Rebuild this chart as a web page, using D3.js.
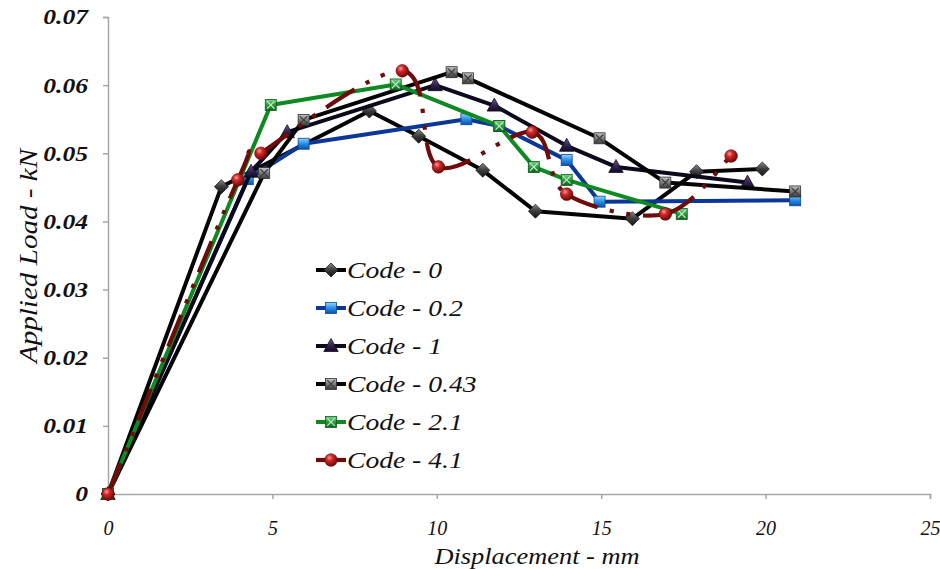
<!DOCTYPE html>
<html>
<head>
<meta charset="utf-8">
<script src="https://cdn.jsdelivr.net/npm/d3@7"></script>
<style>
  html, body { margin: 0; padding: 0; background: #fff; }
  svg { display: block; }
  text { font-family: "Liberation Serif", "Times New Roman", serif; font-style: italic; }
</style>
</head>
<body>
<svg id="chart" width="940" height="569"></svg>
<script>
// Load–displacement readings for each specimen code
const seriesNames = ["Code - 0", "Code - 0.2", "Code - 1", "Code - 0.43", "Code - 2.1", "Code - 4.1"];

const code0X   = [0, 3.45, 7.95, 9.45, 11.4, 13.0, 15.95, 17.9, 19.9];
const code0Y   = [0, 0.0451, 0.0562, 0.0525, 0.0475, 0.0415, 0.0404, 0.0473, 0.0477];

const code02X  = [0, 4.25, 5.95, 10.9, 11.9, 13.95, 14.95, 20.9];
const code02Y  = [0, 0.0462, 0.0514, 0.0550, 0.0540, 0.0490, 0.0429, 0.0431];

const code1X   = [0, 4.35, 5.45, 9.95, 11.75, 13.95, 15.45, 19.45];
const code1Y   = [0, 0.0473, 0.0531, 0.0600, 0.0570, 0.0511, 0.0480, 0.0457];

const code043X = [0, 4.75, 5.95, 10.45, 10.95, 14.95, 16.95, 20.9];
const code043Y = [0, 0.0471, 0.0549, 0.0619, 0.0610, 0.0522, 0.0457, 0.0444];

const code21X  = [0, 4.95, 8.75, 11.9, 12.95, 13.95, 17.45];
const code21Y  = [0, 0.0571, 0.0601, 0.0540, 0.0480, 0.0461, 0.0411];

const code41X  = [0, 3.95, 4.65, 8.95, 10.05, 12.9, 13.95, 16.95, 18.95];
const code41Y  = [0, 0.0461, 0.0500, 0.0621, 0.0480, 0.0531, 0.0440, 0.0411, 0.0496];

const xTicks = [0, 5, 10, 15, 20, 25];
const yTicks = [0, 0.01, 0.02, 0.03, 0.04, 0.05, 0.06, 0.07];
const yTickLabels = ["0", "0.01", "0.02", "0.03", "0.04", "0.05", "0.06", "0.07"];

const xTitle = "Displacement - mm";
const yTitle = "Applied Load - kN";

// ---- layout ----
const svg = d3.select("#chart");
const frame = { left: 108, right: 930, top: 17, bottom: 494 };

const x = d3.scaleLinear().domain([0, 25]).range([frame.left, frame.right]);
const y = d3.scaleLinear().domain([0, 0.07]).range([frame.bottom, frame.top]);

// ---- gradients for the glossy markers ----
const defs = svg.append("defs");
function linGrad(id, stops) {
  const g = defs.append("linearGradient").attr("id", id)
    .attr("x1", "0").attr("y1", "0").attr("x2", "0").attr("y2", "1");
  stops.forEach(([o, c]) => g.append("stop").attr("offset", o).attr("stop-color", c));
}
function radGrad(id, stops) {
  const g = defs.append("radialGradient").attr("id", id)
    .attr("cx", "0.38").attr("cy", "0.32").attr("r", "0.7");
  stops.forEach(([o, c]) => g.append("stop").attr("offset", o).attr("stop-color", c));
}
linGrad("gDiamond", [[0, "#8a8a8a"], [0.5, "#3a3a3a"], [1, "#151515"]]);
linGrad("gBlue", [[0, "#8fd6ff"], [0.5, "#2a8ee6"], [1, "#0a4fa8"]]);
linGrad("gTri", [[0, "#6a5a90"], [0.6, "#2c2048"], [1, "#140c24"]]);
linGrad("gGray", [[0, "#c8c8c8"], [0.5, "#7a7a7a"], [1, "#3a3a3a"]]);
linGrad("gGreen", [[0, "#7ad88a"], [0.5, "#2b9a3e"], [1, "#12621f"]]);
radGrad("gRed", [[0, "#f4a0a0"], [0.35, "#d02828"], [1, "#6a0808"]]);

// ---- series definitions ----
const series = [
  { name: seriesNames[0], xs: code0X,   ys: code0Y,   line: "#050505", width: 4, marker: "diamond" },
  { name: seriesNames[1], xs: code02X,  ys: code02Y,  line: "#0c3796", width: 4, marker: "bsquare" },
  { name: seriesNames[2], xs: code1X,   ys: code1Y,   line: "#0d0a1c", width: 4, marker: "triangle" },
  { name: seriesNames[3], xs: code043X, ys: code043Y, line: "#050505", width: 4, marker: "gsquare" },
  { name: seriesNames[4], xs: code21X,  ys: code21Y,  line: "#0f8a22", width: 4, marker: "xsquare" },
  { name: seriesNames[5], xs: code41X,  ys: code41Y,  line: "#6e0c0c", width: 4.2, marker: "circle", smooth: true }
];

// text helper: widened glyphs to suit the chart's typography
function stretch(sel, tx, ty, sx) {
  sel.attr("x", 0).attr("y", 0).attr("transform", `translate(${tx},${ty}) scale(${sx},1)`);
}

// ---- axes ----
const axisColor = "#a6a6a6";
const yAxis = svg.append("g").attr("transform", `translate(${frame.left},0)`)
  .call(d3.axisLeft(y).tickValues(yTicks).tickSize(5).tickFormat((d, i) => yTickLabels[i]));
const xAxis = svg.append("g").attr("transform", `translate(0,${frame.bottom})`)
  .call(d3.axisBottom(x).tickValues(xTicks).tickSize(5).tickFormat(d3.format("d")));

[yAxis, xAxis].forEach(g => {
  g.select(".domain").attr("stroke", axisColor).attr("stroke-width", 1.5);
  g.selectAll(".tick line").attr("stroke", axisColor).attr("stroke-width", 1.5);
  g.selectAll(".tick text").attr("fill", "#111")
    .style("font-family", '"Liberation Serif", serif').style("font-style", "italic");
});
yAxis.selectAll(".tick text")
  .style("font-size", "21px").style("font-weight", "bold")
  .attr("dy", "0.33em")
  .call(stretch, -20, 0, 1.22);
xAxis.selectAll(".tick text")
  .style("font-size", "20px")
  .attr("dy", null)
  .call(stretch, 0, 41, 1.0);

svg.append("text")
  .attr("text-anchor", "middle")
  .style("font-size", "26px").attr("fill", "#111")
  .text(yTitle)
  .attr("transform", `translate(37,256) rotate(-90) scale(1.12,1)`);

svg.append("text")
  .attr("text-anchor", "middle")
  .style("font-size", "24px").attr("fill", "#111")
  .text(xTitle)
  .call(stretch, 537, 564, 1.1);

// ---- marker drawing ----
function drawMarker(g, type, cx, cy) {
  const m = g.append("g").attr("transform", `translate(${cx},${cy})`);
  if (type === "diamond") {
    m.append("path").attr("d", "M0,-7L7,0L0,7L-7,0Z")
      .attr("fill", "url(#gDiamond)").attr("stroke", "#1a1a1a").attr("stroke-width", 0.8);
  } else if (type === "bsquare") {
    m.append("rect").attr("x", -5.5).attr("y", -5.5).attr("width", 11).attr("height", 11)
      .attr("fill", "url(#gBlue)").attr("stroke", "#0b4a94").attr("stroke-width", 0.8);
  } else if (type === "triangle") {
    m.append("path").attr("d", "M0,-7.5L7.2,5.5L-7.2,5.5Z")
      .attr("fill", "url(#gTri)").attr("stroke", "#120a22").attr("stroke-width", 0.8);
  } else if (type === "gsquare" || type === "xsquare") {
    const fill = type === "gsquare" ? "url(#gGray)" : "url(#gGreen)";
    const edge = type === "gsquare" ? "#2e2e2e" : "#0d5a1a";
    const cross = type === "gsquare" ? "#3c3c3c" : "#bfeac6";
    m.append("rect").attr("x", -5.5).attr("y", -5.5).attr("width", 11).attr("height", 11)
      .attr("fill", fill).attr("stroke", edge).attr("stroke-width", 0.8);
    m.append("path").attr("d", "M-3.8,-3.8L3.8,3.8M3.8,-3.8L-3.8,3.8")
      .attr("stroke", cross).attr("stroke-width", 1.2);
  } else if (type === "circle") {
    m.append("circle").attr("r", 6.3)
      .attr("fill", "url(#gRed)").attr("stroke", "#5a0606").attr("stroke-width", 0.6);
  }
}

// ---- plot lines ----
const plot = svg.append("g");
const straight = d3.line().x(d => x(d[0])).y(d => y(d[1]));

series.forEach(s => {
  const pts = s.xs.map((v, i) => [v, s.ys[i]]);
  const g = plot.append("g");
  if (!s.smooth) {
    g.append("path").datum(pts).attr("d", straight)
      .attr("fill", "none").attr("stroke", s.line)
      .attr("stroke-width", s.width).attr("stroke-linejoin", "round");
  } else {
    // smoothed long-dash-dot-dot line (8:3:1:3:1:3 of the stroke width);
    // the dash pattern restarts on every segment between readings
    const w = s.width;
    const dash = [8, 3, 1, 3, 1, 3].map(k => k * w).join(" ");
    const P = pts.map(d => [x(d[0]), y(d[1])]);
    const n = P.length;
    for (let i = 0; i < n - 1; i++) {
      const p0 = P[Math.max(i - 1, 0)], p1 = P[i], p2 = P[i + 1], p3 = P[Math.min(i + 2, n - 1)];
      const c1 = [p1[0] + (p2[0] - p0[0]) / 6, p1[1] + (p2[1] - p0[1]) / 6];
      const c2 = [p2[0] - (p3[0] - p1[0]) / 6, p2[1] - (p3[1] - p1[1]) / 6];
      const path = d3.path();
      path.moveTo(p1[0], p1[1]);
      path.bezierCurveTo(c1[0], c1[1], c2[0], c2[1], p2[0], p2[1]);
      g.append("path").attr("d", path.toString())
        .attr("fill", "none").attr("stroke", s.line)
        .attr("stroke-width", w).attr("stroke-linecap", "butt")
        .attr("stroke-dasharray", dash);
    }
  }
  s.group = g;
});

series.forEach(s => {
  s.xs.forEach((v, i) => drawMarker(s.group, s.marker, x(v), y(s.ys[i])));
});

// ---- legend ----
const legend = svg.append("g");
series.forEach((s, i) => {
  const ly = 270 + i * 38;
  const g = legend.append("g");
  g.append("line").attr("x1", 316).attr("x2", 346).attr("y1", ly).attr("y2", ly)
    .attr("stroke", s.line).attr("stroke-width", s.width);
  drawMarker(g, s.marker, 331, ly);
  g.append("text").attr("dy", "0.33em")
    .style("font-size", "23px").attr("fill", "#111").text(s.name)
    .call(stretch, 347, ly, 1.2);
});
</script>
</body>
</html>
